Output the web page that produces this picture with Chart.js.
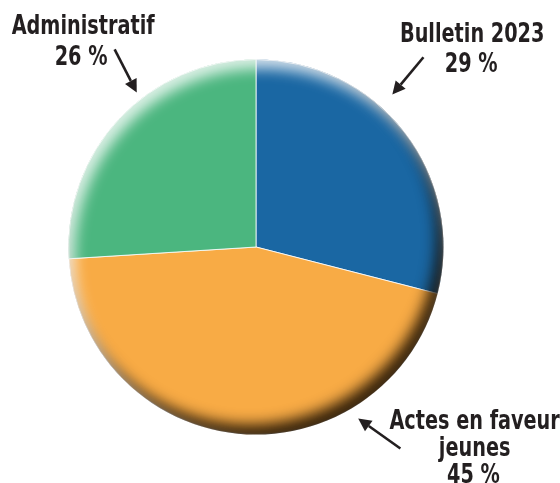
<!DOCTYPE html>
<html>
<head>
<meta charset="utf-8">
<script src="https://cdn.jsdelivr.net/npm/chart.js@4/dist/chart.umd.min.js"></script>
<style>
  html, body { margin: 0; padding: 0; background: #fff; }
  #wrap { width: 560px; height: 483px; position: relative; }
</style>
</head>
<body>
<div id="wrap"><canvas id="c"></canvas></div>
<script>
const labels = ['Bulletin 2023', 'Actes en faveur jeunes', 'Administratif'];
const values = [29, 45, 26];
const colors = ['#1a67a3', '#f8ab45', '#4bb67f'];

// label text lines for each slice
const labelLines = [
    ['Bulletin 2023', '29 %'],
    ['Actes en faveur', 'jeunes', '45 %'],
    ['Administratif', '26 %']
];

const FONT = '"DejaVu Sans Condensed", "Liberation Sans Narrow", sans-serif';

// soft 3D bevel: dark rim bottom-right, light rim top-left
const bevel = {
    id: 'bevel',
    afterDatasetsDraw(chart) {
        const arc = chart.getDatasetMeta(0).data[0];
        const cx = arc.x, cy = arc.y, r = arc.outerRadius;
        const ctx = chart.ctx;
        const far = 10000;
        const passes = [
            { dx: -7, dy: -10, color: 'rgba(20,10,0,0.85)', blur: 14 },
            { dx: 6, dy: 9, color: 'rgba(255,255,255,0.8)', blur: 14 }
        ];
        passes.forEach(p => {
            ctx.save();
            ctx.beginPath();
            ctx.arc(cx, cy, r, 0, Math.PI * 2);
            ctx.clip();
            ctx.beginPath();
            ctx.rect(cx - 3 * r - far, cy - 3 * r, 6 * r, 6 * r);
            ctx.arc(cx + p.dx - far, cy + p.dy, r, 0, Math.PI * 2, true);
            ctx.shadowColor = p.color;
            ctx.shadowBlur = p.blur;
            ctx.shadowOffsetX = far;
            ctx.fillStyle = '#000';
            ctx.fill();
            ctx.restore();
        });
    }
};

// callout labels with arrows, placed relative to pie centre / radius
const callouts = {
    id: 'callouts',
    afterDraw(chart) {
        const arc = chart.getDatasetMeta(0).data[0];
        const cx = arc.x, cy = arc.y, r = arc.outerRadius;
        const ctx = chart.ctx;
        const P = (u, v) => [cx + u * r, cy + v * r];
        const spec = [
            { text: [P(1.153, -1.096), P(1.148, -0.936)], from: P(0.893, -1.012), to: P(0.727, -0.813) },
            { text: [P(1.166, 0.968), P(1.166, 1.112), P(1.160, 1.257)], from: P(0.770, 1.075), to: P(0.545, 0.914) },
            { text: [P(-0.922, -1.134), P(-0.933, -0.973)], from: P(-0.754, -1.054), to: P(-0.636, -0.824) }
        ];
        ctx.save();
        ctx.fillStyle = '#231f20';
        ctx.strokeStyle = '#231f20';
        ctx.font = 'bold 27px ' + FONT;
        ctx.textAlign = 'center';
        ctx.textBaseline = 'alphabetic';
        // squeeze the condensed font to the narrow look of the original
        const sx = 143 / ctx.measureText('Administratif').width;
        spec.forEach((s, i) => {
            labelLines[i].forEach((t, j) => {
                ctx.save();
                ctx.translate(s.text[j][0], s.text[j][1]);
                ctx.scale(sx, 1);
                ctx.fillText(t, 0, 0);
                ctx.restore();
            });
            const [x1, y1] = s.from, [x2, y2] = s.to;
            const ang = Math.atan2(y2 - y1, x2 - x1);
            const head = 13, wing = 6.5;
            const bx = x2 - head * Math.cos(ang), by = y2 - head * Math.sin(ang);
            ctx.lineWidth = 2.6;
            ctx.beginPath();
            ctx.moveTo(x1, y1);
            ctx.lineTo(bx, by);
            ctx.stroke();
            ctx.beginPath();
            ctx.moveTo(x2, y2);
            ctx.lineTo(bx - wing * Math.sin(ang), by + wing * Math.cos(ang));
            ctx.lineTo(bx + wing * Math.sin(ang), by - wing * Math.cos(ang));
            ctx.closePath();
            ctx.fill();
        });
        ctx.restore();
    }
};

new Chart(document.getElementById('c'), {
    type: 'pie',
    data: {
        labels: labels,
        datasets: [{
            data: values,
            backgroundColor: colors,
            borderColor: 'rgba(255,255,255,0.8)',
            borderWidth: 1
        }]
    },
    options: {
        responsive: true,
        maintainAspectRatio: false,
        animation: false,
        layout: { padding: { top: 59, bottom: 48, left: 68, right: 116 } },
        plugins: {
            legend: { display: false },
            tooltip: { enabled: false }
        }
    },
    plugins: [bevel, callouts]
});
</script>
</body>
</html>
